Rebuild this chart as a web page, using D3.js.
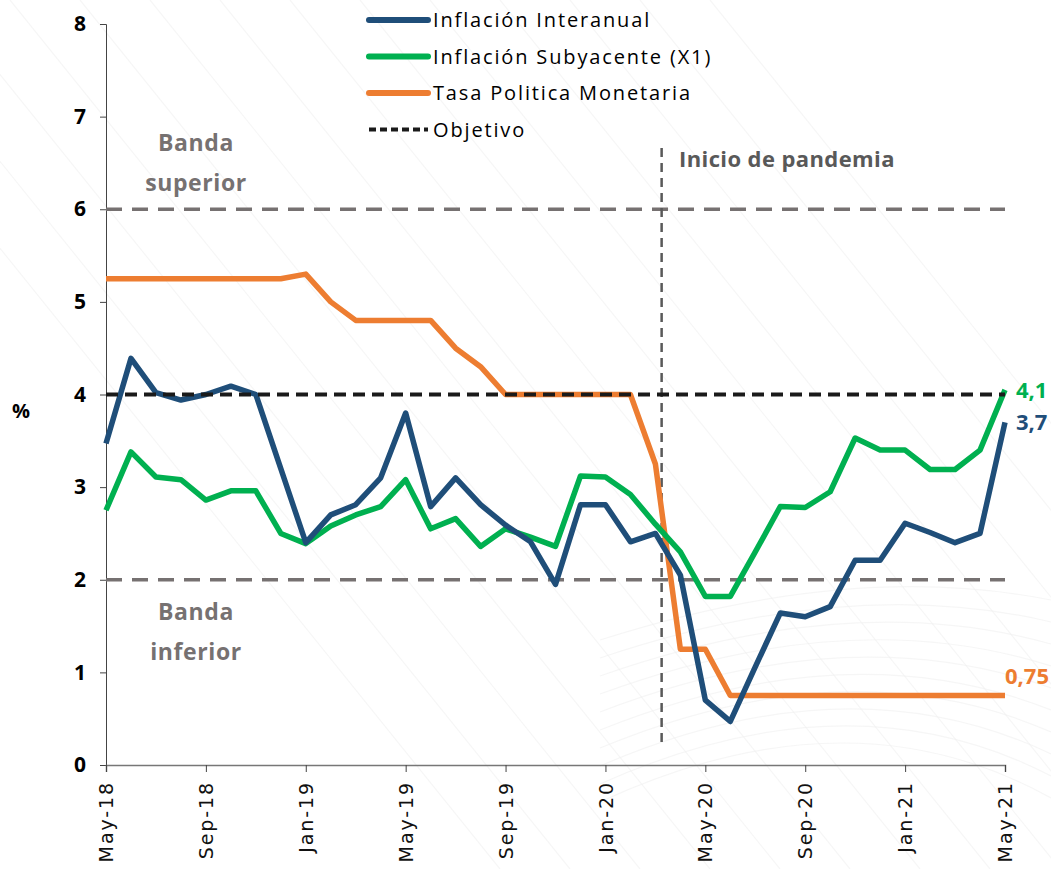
<!DOCTYPE html>
<html>
<head>
<meta charset="utf-8">
<script src="https://cdn.jsdelivr.net/npm/d3@7"></script>
<style>
  body { margin: 0; background: #fff; }
  svg { display: block; }
</style>
</head>
<body>
<svg width="1051" height="869"></svg>
<script>
// monthly data May-18 .. May-21
const months = ["May-18","Jun-18","Jul-18","Aug-18","Sep-18","Oct-18","Nov-18","Dec-18",
  "Jan-19","Feb-19","Mar-19","Apr-19","May-19","Jun-19","Jul-19","Aug-19","Sep-19","Oct-19","Nov-19","Dec-19",
  "Jan-20","Feb-20","Mar-20","Apr-20","May-20","Jun-20","Jul-20","Aug-20","Sep-20","Oct-20","Nov-20","Dec-20",
  "Jan-21","Feb-21","Mar-21","Apr-21","May-21"];
const tickLabels = ["May-18","Sep-18","Jan-19","May-19","Sep-19","Jan-20","May-20","Sep-20","Jan-21","May-21"];

const interanual = [3.47,4.39,4.02,3.94,4.0,4.09,4.0,3.2,2.4,2.7,2.81,3.1,3.8,2.79,3.1,2.81,2.59,2.41,1.95,2.81,
  2.81,2.41,2.5,2.05,0.7,0.47,1.06,1.64,1.6,1.71,2.21,2.21,2.61,2.51,2.4,2.5,3.7];
const subyacente = [2.75,3.38,3.11,3.08,2.86,2.96,2.96,2.5,2.39,2.58,2.7,2.79,3.08,2.55,2.66,2.36,2.55,2.46,2.36,3.12,
  3.11,2.92,2.6,2.3,1.82,1.82,2.3,2.79,2.78,2.95,3.53,3.4,3.4,3.19,3.19,3.4,4.05];
const tpm = [5.25,5.25,5.25,5.25,5.25,5.25,5.25,5.25,5.3,5.0,4.8,4.8,4.8,4.8,4.5,4.3,4.0,4.0,4.0,4.0,
  4.0,4.0,3.25,1.25,1.25,0.75,0.75,0.75,0.75,0.75,0.75,0.75,0.75,0.75,0.75,0.75,0.75];
const objetivo = 4, bandaSup = 6, bandaInf = 2;
const pandemiaIdx = 22.25;

const yTicks = [0,1,2,3,4,5,6,7,8];

const svg = d3.select("svg");
const x = d3.scaleLinear().domain([0, months.length - 1]).range([106, 1005]);
const y = d3.scaleLinear().domain([0, 8]).range([765, 24]);

const colors = { blue: "#1f4e79", green: "#00b050", orange: "#ed7d31" };

// faint decorative background lines
const bg = svg.append("g").attr("stroke", "#f0f0f0").attr("fill", "none").attr("stroke-width", 1.2);
for (let k = 0; k < 14; k++) {
  bg.append("path").attr("d", `M${-200 + k * 70},${0} L${500 + k * 70},${869}`).attr("opacity", 0.6);
}
for (let k = 0; k < 10; k++) {
  bg.append("path").attr("d", `M600,${640 + k * 18} Q850,${560 + k * 14} 1051,${600 + k * 22}`).attr("opacity", 0.6);
}

// y axis
const yAxis = svg.append("g")
  .attr("transform", "translate(106,0)")
  .call(d3.axisLeft(y).tickValues(yTicks).tickSize(6).tickPadding(14).tickFormat(d3.format("d")));
yAxis.select(".domain").attr("stroke", "#444");
yAxis.selectAll(".tick line").attr("stroke", "#444");
yAxis.selectAll("text")
  .attr("font-family", "Open Sans, sans-serif").attr("font-weight", "bold")
  .attr("font-size", 21).attr("fill", "#000");

// x axis
const xAxis = svg.append("g")
  .attr("transform", "translate(0,765)")
  .call(d3.axisBottom(x)
    .tickValues(tickLabels.map(t => months.indexOf(t)))
    .tickSize(7)
    .tickFormat(i => months[i]));
xAxis.select(".domain").attr("stroke", "#777").attr("stroke-width", 1.5);
xAxis.selectAll(".tick line").attr("stroke", "#444");
xAxis.selectAll("text")
  .attr("font-family", "DejaVu Sans, sans-serif").attr("font-size", 19)
  .attr("fill", "#111").attr("letter-spacing", 1.9)
  .attr("transform", "rotate(-90)")
  .attr("text-anchor", "end").attr("dx", "-16").attr("dy", "0.35em").attr("x", 0).attr("y", 0);

// reference lines
const refs = [
  { v: bandaSup, color: "#767171", w: 3.5, dash: "16,10" },
  { v: bandaInf, color: "#767171", w: 3.5, dash: "16,10" },
];
refs.forEach(r => {
  svg.append("line")
    .attr("x1", x(0)).attr("x2", x(months.length - 1))
    .attr("y1", y(r.v)).attr("y2", y(r.v))
    .attr("stroke", r.color).attr("stroke-width", r.w).attr("stroke-dasharray", r.dash);
});

// pandemic vertical
svg.append("line")
  .attr("x1", x(pandemiaIdx)).attr("x2", x(pandemiaIdx))
  .attr("y1", y(6.66)).attr("y2", y(0.2))
  .attr("stroke", "#595959").attr("stroke-width", 2.5).attr("stroke-dasharray", "9,6");

const line = d3.line().x((d, i) => x(i)).y(d => y(d));

[[tpm, colors.orange], [subyacente, colors.green], [interanual, colors.blue]].forEach(([data, c]) => {
  svg.append("path").datum(data)
    .attr("d", line)
    .attr("fill", "none").attr("stroke", c)
    .attr("stroke-width", 5.5).attr("stroke-linejoin", "round");
});

// objetivo on top
svg.append("line")
  .attr("x1", x(0)).attr("x2", x(months.length - 1))
  .attr("y1", y(objetivo)).attr("y2", y(objetivo))
  .attr("stroke", "#1a1a1a").attr("stroke-width", 4).attr("stroke-dasharray", "12,7");

// annotations
const ann = svg.append("g").attr("font-family", "Open Sans, sans-serif").attr("font-weight", "bold").attr("font-size", 22);
const band = ann.append("g").attr("font-size", 23).attr("letter-spacing", 0.6).attr("fill", "#767171").attr("text-anchor", "middle");
band.append("text").attr("x", 196).attr("y", 151).text("Banda");
band.append("text").attr("x", 196).attr("y", 191).text("superior");
band.append("text").attr("x", 196).attr("y", 620).text("Banda");
band.append("text").attr("x", 196).attr("y", 660).text("inferior");
ann.append("text").attr("x", 679).attr("y", 167).attr("font-size", 22).attr("letter-spacing", 0.4)
  .attr("fill", "#595959").text("Inicio de pandemia");
ann.append("text").attr("x", 12).attr("y", 418).attr("font-size", 20).attr("fill", "#000").text("%");

// end labels
const last = months.length - 1;
ann.append("text").attr("x", 1016).attr("y", y(subyacente[last]) + 8).attr("fill", colors.green).text("4,1");
ann.append("text").attr("x", 1016).attr("y", y(interanual[last]) + 8).attr("fill", colors.blue).text("3,7");
ann.append("text").attr("x", 1049).attr("y", y(tpm[last]) - 12).attr("text-anchor", "end").attr("fill", colors.orange).text("0,75");

// legend
const legendItems = [
  { name: "Inflación Interanual", color: colors.blue, dash: null },
  { name: "Inflación Subyacente (X1)", color: colors.green, dash: null },
  { name: "Tasa Politica Monetaria", color: colors.orange, dash: null },
  { name: "Objetivo", color: "#1a1a1a", dash: "7,4" },
];
const lg = svg.append("g").attr("transform", "translate(367,20)");
legendItems.forEach((d, i) => {
  const row = lg.append("g").attr("transform", `translate(0,${i * 36.5})`);
  row.append("line").attr("x1", 2).attr("x2", 61).attr("y1", 0).attr("y2", 0)
    .attr("stroke", d.color).attr("stroke-width", d.dash ? 4 : 6)
    .attr("stroke-linecap", d.dash ? "butt" : "round")
    .attr("stroke-dasharray", d.dash);
  row.append("text").attr("x", 66).attr("y", 7)
    .attr("font-family", "Open Sans, sans-serif").attr("font-size", 20)
    .attr("letter-spacing", 1.85).attr("fill", "#000").text(d.name);
});
</script>
</body>
</html>
